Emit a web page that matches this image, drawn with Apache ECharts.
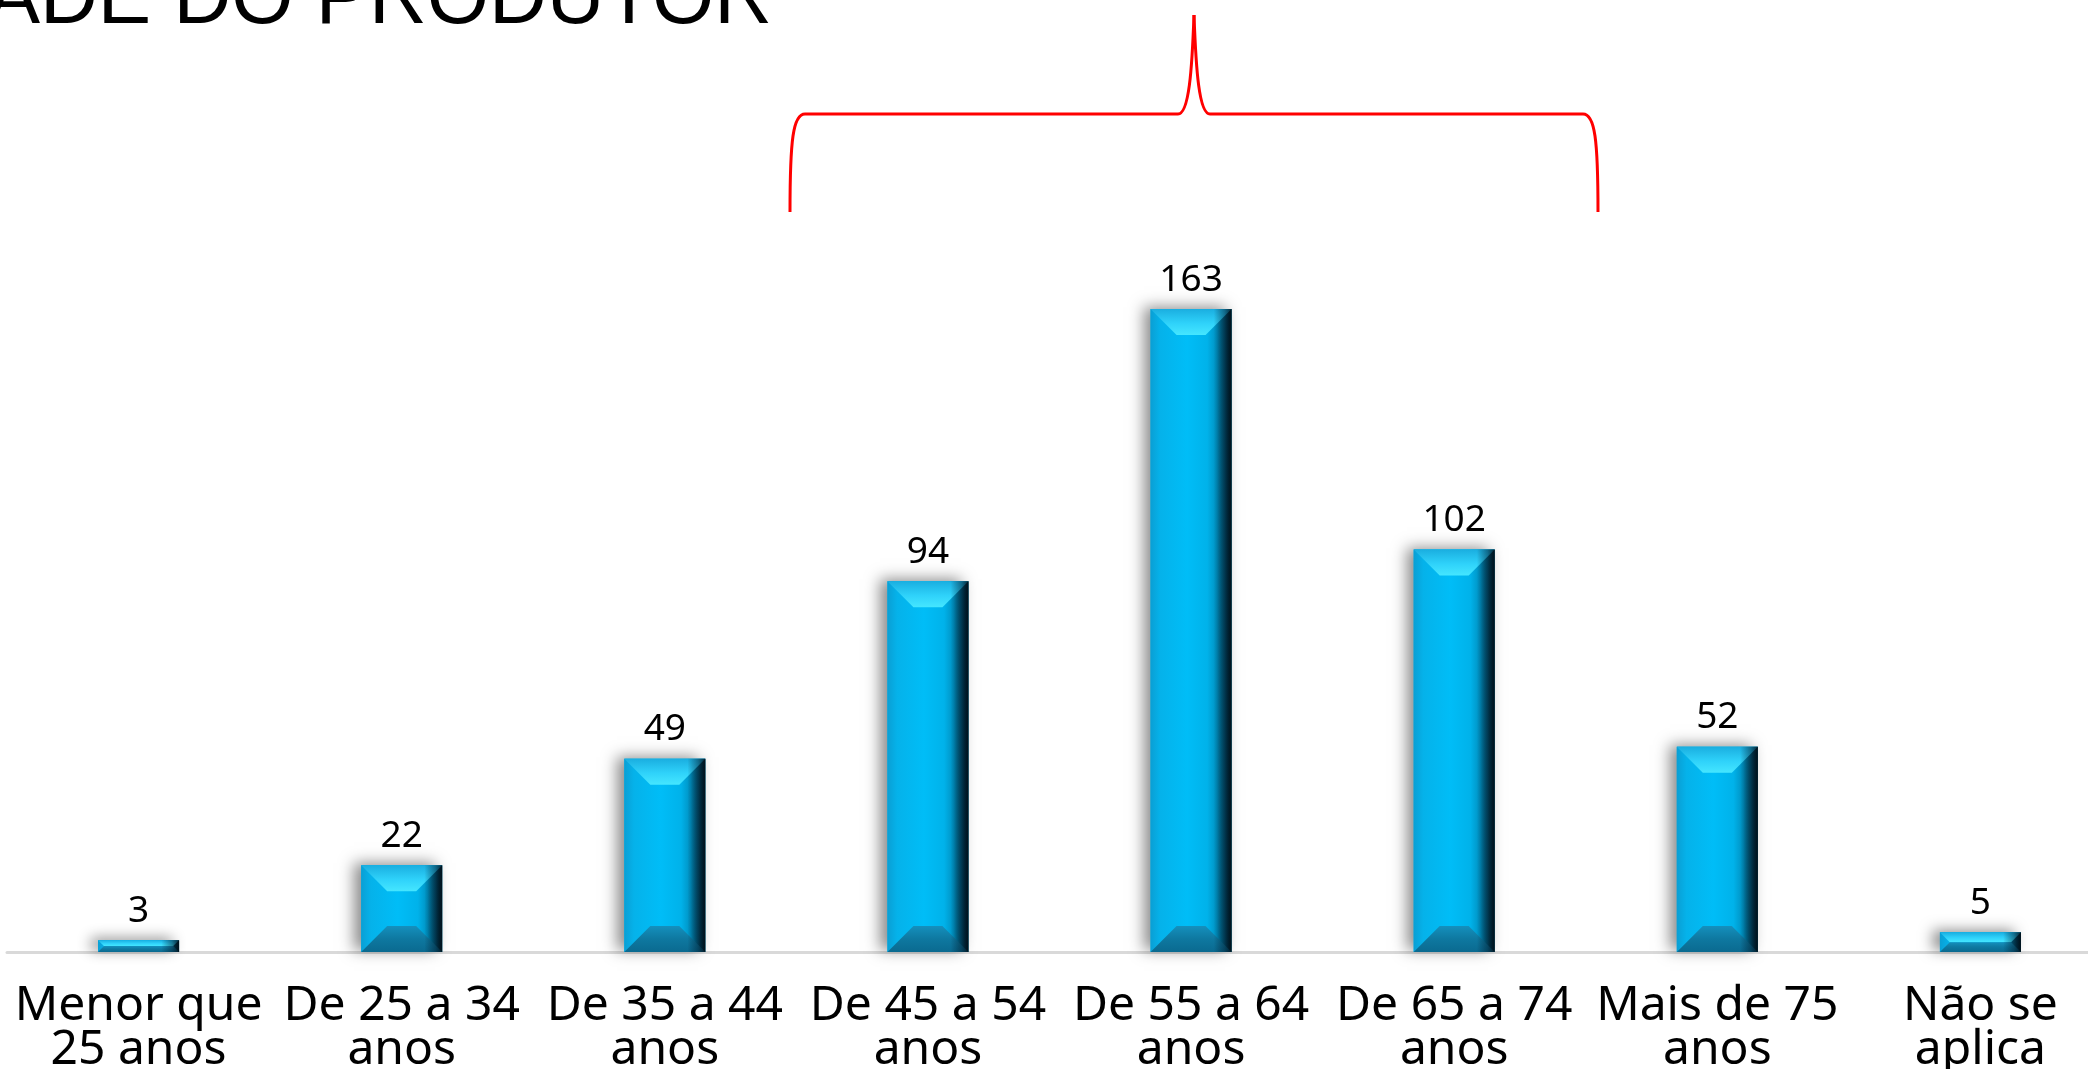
<!DOCTYPE html>
<html>
<head>
<meta charset="utf-8">
<script src="https://cdn.jsdelivr.net/npm/echarts@6/dist/echarts.min.js"></script>
<style>html,body{margin:0;padding:0;background:#fff;}#c{width:2088px;height:1069px;}</style>
</head>
<body>
<div id="c"></div>
<script>
const titleText = 'IDADE DO PRODUTOR';
const categories = ['Menor que\n25 anos','De 25 a 34\nanos','De 35 a 44\nanos','De 45 a 54\nanos','De 55 a 64\nanos','De 65 a 74\nanos','Mais de 75\nanos','Não se\naplica'];
const values = [3, 22, 49, 94, 163, 102, 52, 5];

const chart = echarts.init(document.getElementById('c'), null, {renderer: 'canvas'});

function lg(x, y, x2, y2, stops) {
  return {type: 'linear', x: x, y: y, x2: x2, y2: y2,
    colorStops: stops.map(s => ({offset: s[0], color: s[1]})), global: false};
}

function renderBar(params, api) {
  const i = api.value(0), v = api.value(1);
  const top = api.coord([i, v]);
  const base = api.coord([i, 0]);
  const bw = api.size([1, 0])[0] * 0.308;
  const x0 = top[0] - bw / 2, x1 = top[0] + bw / 2;
  const y0 = top[1], y1 = base[1];
  const h = y1 - y0;
  const d = Math.min(26, h / 2);
  return {
    type: 'group',
    children: [
      {type: 'rect', shape: {x: x0, y: y0, width: bw, height: h},
        style: {fill: '#00b8f0', shadowBlur: 14, shadowOffsetX: -7, shadowOffsetY: -2, shadowColor: 'rgba(0,0,0,0.45)'}},
      {type: 'rect', shape: {x: x0, y: y0, width: bw, height: h},
        style: {fill: lg(0, 0, 1, 0, [
          [0, '#0a9fd4'], [0.12, '#05b2ea'], [0.45, '#00bdf7'], [0.7, '#00b2ea'],
          [0.82, '#0090c0'], [0.93, '#01506e'], [1, '#00222f']
        ])}},
      {type: 'polygon', shape: {points: [[x0, y0], [x1, y0], [x1 - d, y0 + d], [x0 + d, y0 + d]]},
        style: {fill: lg(0, 0, 0, 1, [[0, '#1aaee0'], [0.55, '#2fd2fa'], [1, '#45e6ff']])}},
      {type: 'polygon', shape: {points: [[x0 + d, y1 - d], [x1 - d, y1 - d], [x1, y1], [x0, y1]]},
        style: {fill: lg(0, 0, 0, 1, [[0, '#1590bd'], [0.5, '#0e78a0'], [1, '#0a6a90']])}},
      {type: 'rect', shape: {x: x1 - bw * 0.22, y: y0, width: bw * 0.22, height: h},
        style: {fill: lg(0, 0, 1, 0, [[0, 'rgba(0,20,35,0)'], [0.6, 'rgba(0,20,35,0.45)'], [1, 'rgba(0,15,25,0.85)']])}},
      {type: 'text', x: top[0], y: y0 - 29,
        style: {text: String(v), fill: '#000', font: '37px "Noto Sans"', textAlign: 'center', textVerticalAlign: 'middle'}}
    ]
  };
}

const braceStyle = {fill: 'none', stroke: '#ff0000', lineWidth: 3};
const option = {
  backgroundColor: '#ffffff',
  animation: false,
  grid: {left: 7, top: 163, width: 2105, height: 789, containLabel: false, outerBoundsMode: 'none'},
  xAxis: {
    type: 'category',
    data: categories,
    axisLine: {show: true, lineStyle: {color: '#d9d9d9', width: 3}},
    axisTick: {show: false},
    axisLabel: {interval: 0, margin: 32, color: '#000', fontSize: 48, lineHeight: 44, fontFamily: 'Noto Sans', hideOverlap: false},
    splitLine: {show: false}
  },
  yAxis: {type: 'value', min: 0, max: 200, show: false, splitLine: {show: false}},
  series: [{
    type: 'custom',
    renderItem: renderBar,
    clip: false,
    data: values.map((v, i) => [i, v]),
    encode: {x: 0, y: 1}
  }],
  graphic: [
    {type: 'text', x: 772, y: 1, style: {text: titleText, fill: '#000', font: '80px "Liberation Sans"', textAlign: 'right', textVerticalAlign: 'middle'}},
    {type: 'bezierCurve', shape: {x1: 790, y1: 212, cpx1: 790, cpy1: 140, cpx2: 793, cpy2: 114, x2: 805, y2: 114}, style: braceStyle},
    {type: 'line', shape: {x1: 805, y1: 114, x2: 1178, y2: 114}, style: braceStyle},
    {type: 'bezierCurve', shape: {x1: 1178, y1: 114, cpx1: 1189, cpy1: 114, cpx2: 1192, cpy2: 70, x2: 1194, y2: 15}, style: braceStyle},
    {type: 'bezierCurve', shape: {x1: 1194, y1: 15, cpx1: 1196, cpy1: 70, cpx2: 1199, cpy2: 114, x2: 1210, y2: 114}, style: braceStyle},
    {type: 'line', shape: {x1: 1210, y1: 114, x2: 1583, y2: 114}, style: braceStyle},
    {type: 'bezierCurve', shape: {x1: 1583, y1: 114, cpx1: 1595, cpy1: 114, cpx2: 1598, cpy2: 140, x2: 1598, y2: 212}, style: braceStyle}
  ]
};
chart.setOption(option);
</script>
</body>
</html>
